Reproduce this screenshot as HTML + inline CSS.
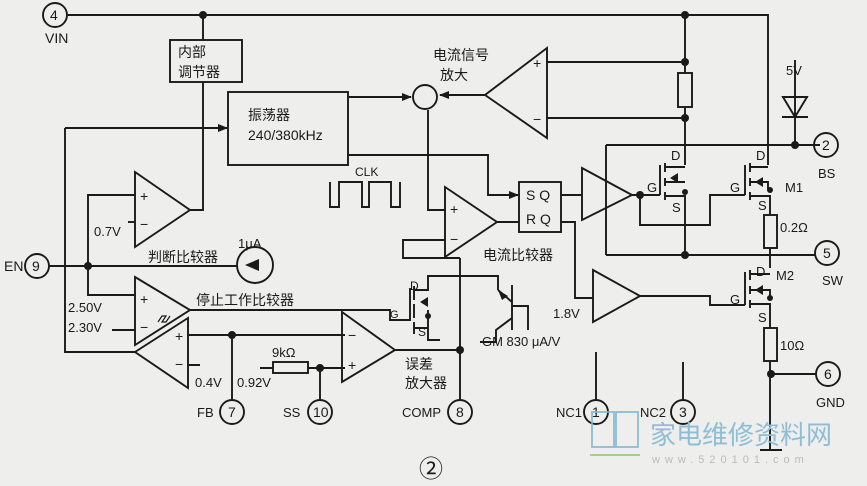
<!DOCTYPE html>
<html><head><meta charset="utf-8"><style>
html,body{margin:0;padding:0;background:#eeeeec;}
svg{display:block}
text{font-family:"Liberation Sans","Noto Sans CJK SC",sans-serif;fill:#1a1a1a;}
</style></head><body>
<svg width="867" height="486" viewBox="0 0 867 486" xmlns="http://www.w3.org/2000/svg">
<defs><marker id="a" markerWidth="10" markerHeight="8" refX="9" refY="4" orient="auto" markerUnits="userSpaceOnUse"><path d="M0,0 L10,4 L0,8z" fill="#1a1a1a"/></marker></defs>
<rect width="867" height="486" fill="#eeeeec"/>
<g stroke="#1a1a1a" stroke-width="1.9" fill="none">
<circle cx="55" cy="15" r="12"/>
<path d="M67,15 H768 V165"/>
<path d="M203,15 V40 M203,82 V210 H190"/>
<rect x="170" y="40" width="72" height="42"/>
<rect x="228" y="92" width="120" height="73"/>
<path d="M348,97 H411" marker-end="url(#a)"/>
<circle cx="425" cy="97" r="12"/>
<path d="M65,128 H227" marker-end="url(#a)"/>
<path d="M65,128 V352 H135"/>
<path d="M135,172 L190,210 L135,247 Z"/>
<path d="M135,195 H88 V295 H135"/>
<path d="M135,222 H128"/>
<path d="M330,182 V207 H339 V182 H362 V207 H369 V182 H391 V207 H400 V182"/>
<circle cx="37" cy="266" r="12"/>
<path d="M49,266 H237"/>
<circle cx="255" cy="265" r="18"/>
<path d="M135,277 L190,310 L135,345 Z"/>
<path d="M112,330 H135"/>
<path d="M158,322 l4,-6 h4 l-4,6 h4 l4,-6" stroke-width="1.2"/>
<path d="M190,310 H390 V320 H400"/>
<path d="M188,318 L135,352 L188,388 Z"/>
<path d="M188,335 H345 M188,365 H200"/>
<path d="M232,335 V400"/>
<circle cx="232" cy="412" r="12"/>
<path d="M260,368 H273 M308,368 H345"/>
<rect x="273" y="362" width="35" height="11"/>
<path d="M320,368 V400"/>
<circle cx="320" cy="412" r="12"/>
<path d="M342,312 L395,350 L342,382 Z"/>
<path d="M395,350 H460"/>
<path d="M460,258 V400"/>
<circle cx="460" cy="412" r="12"/>
<path d="M400,320 H410 V288 M414,286 V300 M414,304 V318 M414,322 V334"/>
<path d="M414,290 H428 V276 H430 M414,328 H428 V340 H440 M428,310 V328"/>
<path d="M430,276 H498 V290"/>
<path d="M512,285 V330 M498,290 L512,302 M512,318 L496,330 V342 H480 M512,306 H528 V330"/>
<path d="M445,187 L497,222 L445,257 Z"/>
<path d="M428,110 V210 H445"/>
<path d="M445,240 H403 V258 H460"/>
<path d="M348,155 H488 V195 H518" marker-end="url(#a)"/>
<path d="M497,222 H519"/>
<rect x="519" y="182" width="42" height="50"/>
<path d="M561,195 H582"/>
<path d="M582,168 L632,195 L582,220 Z"/>
<path d="M632,195 H660 M640,195 V225 H710 V195 H745"/>
<path d="M561,222 H575 V298 H593"/>
<path d="M593,270 L640,296 L593,322 Z"/>
<path d="M640,296 H710 V305 H745"/>
<path d="M606,145 V255 M606,145 H820"/>
<path d="M547,48 L485,95 L547,138 Z"/>
<path d="M485,95 H440" marker-end="url(#a)"/>
<path d="M547,62 H685 M547,118 H685"/>
<path d="M685,15 V73 M685,107 V165"/>
<rect x="678" y="73" width="14" height="34"/>
<path d="M660,165 V195 M665,163 V172 M665,178 V186 M665,192 V200 M665,167 H685 M665,182 H685 M665,196 H685 V255"/>
<path d="M745,165 V195 M750,163 V172 M750,178 V186 M750,192 V200 M750,167 H768 M750,182 H768 V190 M750,196 H770 V215"/>
<rect x="764" y="215" width="13" height="33"/>
<path d="M770,248 V268"/>
<path d="M606,255 H815"/>
<circle cx="827" cy="253" r="12"/>
<path d="M745,272 V305 M750,270 V280 M750,286 V294 M750,300 V308 M750,274 H770 M750,290 H770 V298 M750,304 H770 V328"/>
<rect x="764" y="328" width="13" height="33"/>
<path d="M770,361 V450 M760,450 H782 M771,374 H816"/>
<circle cx="828" cy="374" r="12"/>
<path d="M795,60 V145 M782,97 H808 M783,97 L795,117 L807,97 Z M782,117 H808"/>
<circle cx="826" cy="145" r="12"/>
<path d="M596,352 V400 M683,362 V400"/>
<circle cx="596" cy="412" r="12"/>
<circle cx="683" cy="412" r="12"/>
</g>
<g fill="#1a1a1a">
<circle cx="203" cy="15" r="4"/><circle cx="685" cy="15" r="4"/>
<circle cx="88" cy="266" r="4"/><circle cx="232" cy="335" r="4"/>
<circle cx="320" cy="368" r="4"/><circle cx="460" cy="350" r="4"/>
<circle cx="685" cy="62" r="4"/><circle cx="685" cy="118" r="4"/>
<circle cx="640" cy="195" r="4"/><circle cx="685" cy="255" r="4"/>
<circle cx="795" cy="145" r="4"/><circle cx="771" cy="374" r="4"/>
<circle cx="428" cy="316" r="3"/><circle cx="685" cy="192" r="3"/>
<circle cx="770" cy="190" r="3"/><circle cx="770" cy="298" r="3"/>
<path d="M245,265 l14,-6 v12z"/>
<path d="M670,178 l8,-5 v10z M755,182 l8,-5 v10z M755,290 l8,-5 v10z M420,302 l8,-5 v10z M498,290 l10,6 -6,4z"/>
</g>
<g font-size="14">
<text x="50" y="20">4</text><text x="45" y="43">VIN</text>
<text x="178" y="57">内部</text><text x="178" y="77">调节器</text>
<text x="248" y="120">振荡器</text><text x="248" y="140">240/380kHz</text>
<text x="355" y="176" font-size="12">CLK</text>
<text x="140" y="201">+</text><text x="140" y="229">−</text>
<text x="94" y="236" font-size="13">0.7V</text>
<text x="238" y="248" font-size="13">1μA</text>
<text x="148" y="262">判断比较器</text>
<text x="4" y="271">EN</text><text x="32" y="271">9</text>
<text x="140" y="304">+</text><text x="140" y="332">−</text>
<text x="68" y="312" font-size="13">2.50V</text><text x="68" y="332" font-size="13">2.30V</text>
<text x="196" y="305">停止工作比较器</text>
<text x="175" y="341">+</text><text x="175" y="369">−</text>
<text x="195" y="387" font-size="13">0.4V</text><text x="237" y="387" font-size="13">0.92V</text>
<text x="272" y="357" font-size="13">9kΩ</text>
<text x="348" y="340">−</text><text x="348" y="370">+</text>
<text x="405" y="369">误差</text><text x="405" y="388">放大器</text>
<text x="197" y="417" font-size="13">FB</text><text x="228" y="417">7</text>
<text x="283" y="417" font-size="13">SS</text><text x="313" y="417">10</text>
<text x="402" y="417" font-size="13">COMP</text><text x="456" y="417">8</text>
<text x="410" y="290" font-size="12">D</text><text x="390" y="318" font-size="11">G</text><text x="418" y="336" font-size="12">S</text>
<text x="450" y="214">+</text><text x="450" y="244">−</text>
<text x="483" y="260">电流比较器</text>
<text x="526" y="200">S Q</text><text x="526" y="224">R Q</text>
<text x="553" y="318" font-size="13">1.8V</text>
<text x="482" y="346" font-size="13">GM 830 μA/V</text>
<text x="433" y="60">电流信号</text><text x="440" y="80">放大</text>
<text x="533" y="68">+</text><text x="533" y="124">−</text>
<text x="671" y="160" font-size="13">D</text><text x="672" y="212" font-size="13">S</text><text x="647" y="192" font-size="13">G</text>
<text x="756" y="160" font-size="13">D</text><text x="758" y="210" font-size="13">S</text><text x="730" y="192" font-size="13">G</text>
<text x="785" y="192" font-size="13">M1</text>
<text x="780" y="232" font-size="13">0.2Ω</text>
<text x="786" y="75" font-size="13">5V</text>
<text x="822" y="150">2</text><text x="818" y="178" font-size="13">BS</text>
<text x="823" y="258">5</text><text x="822" y="285" font-size="13">SW</text>
<text x="756" y="276" font-size="13">D</text><text x="758" y="322" font-size="13">S</text><text x="730" y="304" font-size="13">G</text>
<text x="776" y="280" font-size="13">M2</text>
<text x="780" y="350" font-size="13">10Ω</text>
<text x="824" y="379">6</text><text x="816" y="407" font-size="13">GND</text>
<text x="556" y="417" font-size="13">NC1</text><text x="592" y="417">1</text>
<text x="640" y="417" font-size="13">NC2</text><text x="679" y="417">3</text>
<text x="419" y="477" font-size="24" font-family="Liberation Serif,serif">②</text>
</g>
<g fill="none" stroke="#7fb6d2" stroke-width="2" opacity="0.8">
<rect x="592" y="412" width="22" height="35"/><rect x="616" y="412" width="22" height="35"/>
</g>
<path d="M590,455 H640" stroke="#9cd48a" stroke-width="2"/>
<text x="650" y="444" font-size="26" style="fill:#8fbdd6">家电维修资料网</text>
<text x="652" y="463" font-size="11" style="fill:#bbb" letter-spacing="5">www.520101.com</text>
</svg>
</body></html>
